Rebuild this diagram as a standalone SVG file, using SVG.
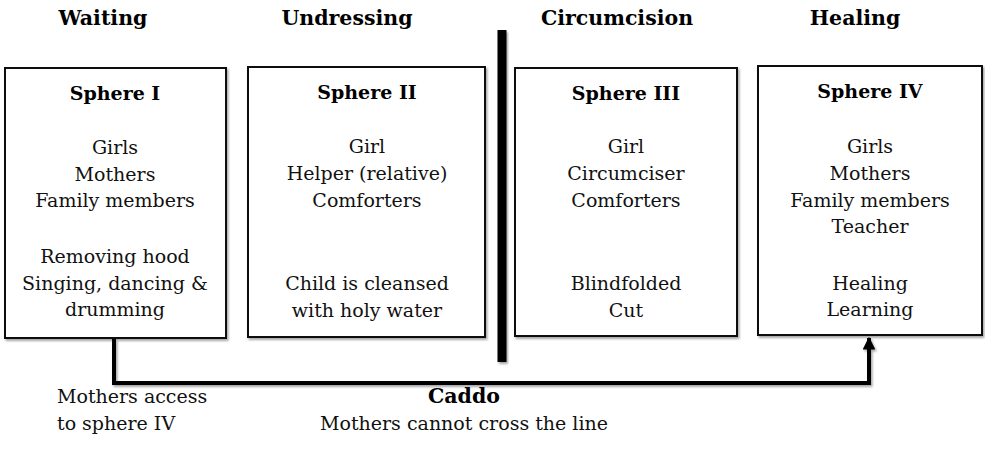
<svg xmlns="http://www.w3.org/2000/svg" width="985" height="463" viewBox="0 0 985 463">
  <style>
    .stage { font-family: "DejaVu Serif", "Liberation Serif", serif; font-weight: bold; font-size: 20.5px; text-anchor: middle; fill: #000; }
    .title { font-family: "DejaVu Serif", "Liberation Serif", serif; font-weight: bold; font-size: 19px; text-anchor: middle; fill: #000; }
    .body { font-family: "DejaVu Serif", "Liberation Serif", serif; font-size: 19px; text-anchor: middle; fill: #111; }
    .note { font-family: "DejaVu Serif", "Liberation Serif", serif; font-size: 19px; fill: #111; }
    .box { fill: #fff; stroke: #111; stroke-width: 2; }
    .link { fill: none; stroke: #000; stroke-width: 4; }
  </style>
  <defs>
    <filter id="shade" x="-10%" y="-10%" width="130%" height="130%">
      <feDropShadow dx="1.5" dy="2" stdDeviation="1.2" flood-color="#000" flood-opacity="0.35"/>
    </filter>
    <marker id="arrow" viewBox="0 0 10 10" refX="9" refY="5" markerWidth="3.2" markerHeight="3.2" orient="auto" markerUnits="strokeWidth">
      <path d="M0,0 L10,5 L0,10 Z" fill="#000"/>
    </marker>
  </defs>

  <rect width="985" height="463" fill="#fff"/>

  <!-- stage headings -->
  <g id="headings">
    <text class="stage" x="103" y="25">Waiting</text>
    <text class="stage" x="347" y="25">Undressing</text>
    <text class="stage" x="617" y="25">Circumcision</text>
    <text class="stage" x="855" y="25">Healing</text>
  </g>

  <!-- dividing line between spheres II and III -->
  <g id="divider">
    <rect x="497.5" y="30" width="9" height="332" fill="#000" filter="url(#shade)"/>
  </g>

  <g id="sphere1">
    <rect class="box" x="5" y="68" width="221" height="270" filter="url(#shade)"/>
    <text class="title" x="115" y="100">Sphere I</text>
    <text class="body" x="115" y="154">Girls</text>
    <text class="body" x="115" y="181">Mothers</text>
    <text class="body" x="115" y="207">Family members</text>
    <text class="body" x="115" y="263">Removing hood</text>
    <text class="body" x="115" y="290">Singing, dancing &amp;</text>
    <text class="body" x="115" y="316">drumming</text>
  </g>

  <g id="sphere2">
    <rect class="box" x="248" y="67" width="237" height="270" filter="url(#shade)"/>
    <text class="title" x="367" y="99">Sphere II</text>
    <text class="body" x="367" y="153">Girl</text>
    <text class="body" x="367" y="180">Helper (relative)</text>
    <text class="body" x="367" y="207">Comforters</text>
    <text class="body" x="367" y="290">Child is cleansed</text>
    <text class="body" x="367" y="317">with holy water</text>
  </g>

  <g id="sphere3">
    <rect class="box" x="515" y="68" width="222" height="268" filter="url(#shade)"/>
    <text class="title" x="626" y="100">Sphere III</text>
    <text class="body" x="626" y="153">Girl</text>
    <text class="body" x="626" y="180">Circumciser</text>
    <text class="body" x="626" y="207">Comforters</text>
    <text class="body" x="626" y="290">Blindfolded</text>
    <text class="body" x="626" y="317">Cut</text>
  </g>

  <g id="sphere4">
    <rect class="box" x="758" y="66" width="224" height="269" filter="url(#shade)"/>
    <text class="title" x="870" y="98">Sphere IV</text>
    <text class="body" x="870" y="153">Girls</text>
    <text class="body" x="870" y="180">Mothers</text>
    <text class="body" x="870" y="207">Family members</text>
    <text class="body" x="870" y="233">Teacher</text>
    <text class="body" x="870" y="290">Healing</text>
    <text class="body" x="870" y="316">Learning</text>
  </g>

  <!-- mothers' route from sphere I to sphere IV -->
  <g id="connectors">
    <path class="link" d="M114,339 V383 H869 V338" marker-end="url(#arrow)" filter="url(#shade)"/>
  </g>

  <g id="captions">
    <text class="note" x="57" y="403">Mothers access</text>
    <text class="note" x="57" y="430">to sphere IV</text>
    <text class="stage" x="464" y="403">Caddo</text>
    <text class="body" x="464" y="430">Mothers cannot cross the line</text>
  </g>
</svg>
